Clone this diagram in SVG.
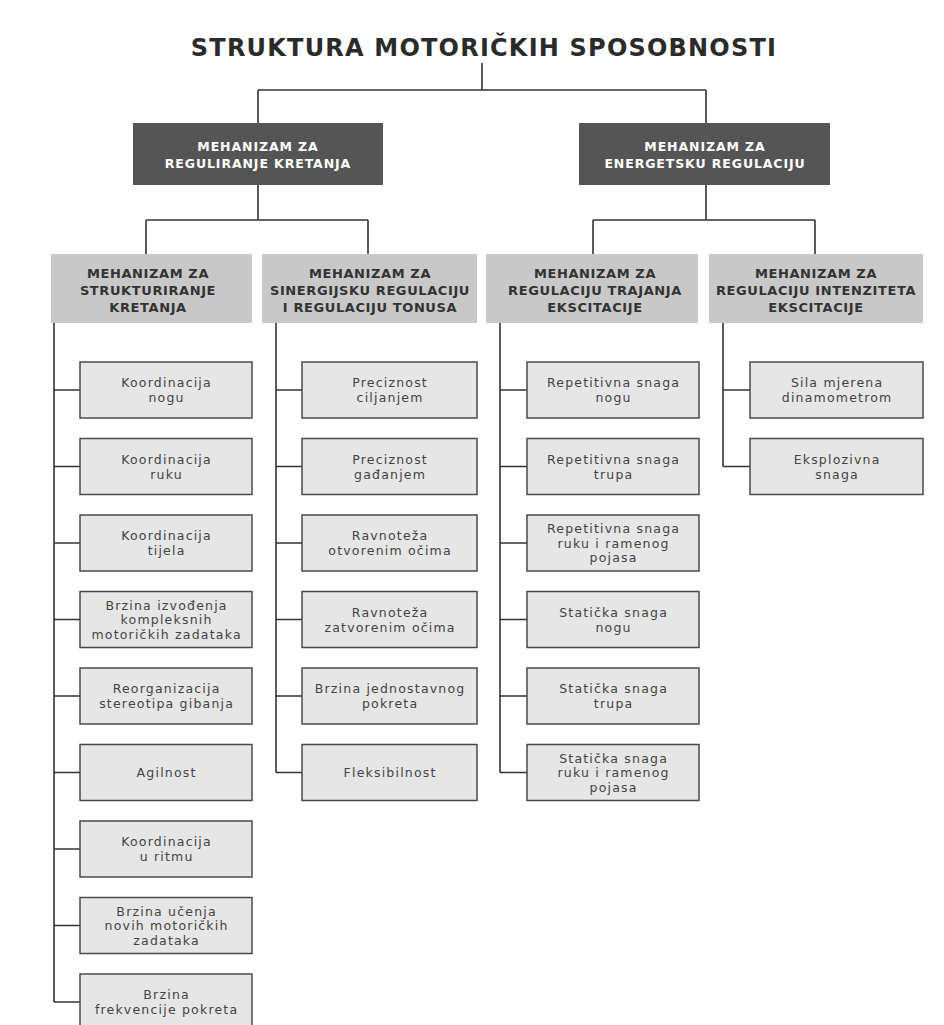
<svg xmlns="http://www.w3.org/2000/svg" width="944" height="1025" viewBox="0 0 944 1025">
<style>
.title{font-family:"DejaVu Sans",sans-serif;font-weight:bold;font-size:24px;letter-spacing:1.2px;fill:#2b2b2b;text-anchor:middle}
.dark rect{fill:#555555}
.dark text{font-family:"DejaVu Sans",sans-serif;font-weight:bold;font-size:12.5px;letter-spacing:0.9px;fill:#ffffff;text-anchor:middle}
.hdr rect{fill:#c8c8c8}
.hdr text{font-family:"DejaVu Sans",sans-serif;font-weight:bold;font-size:13px;letter-spacing:0.6px;fill:#333333;text-anchor:middle}
.leaf rect{fill:#e6e6e6;stroke:#4a4a4a;stroke-width:1.5}
.leaf text{font-family:"DejaVu Sans",sans-serif;font-size:12.5px;letter-spacing:1.2px;fill:#444444;text-anchor:middle}
#connectors path{fill:none;stroke:#333333;stroke-width:1.6}
</style>
<rect width="944" height="1025" fill="#ffffff"/>
<text class="title" x="484" y="56">STRUKTURA MOTORIČKIH SPOSOBNOSTI</text>

<g id="connectors">
<path d="M482 63V90M258 90H706M258 90V123M706 90V123"/>
<path d="M258 185V220M146 220H368M146 220V254M368 220V254"/>
<path d="M706 185V220M593 220H815M593 220V254M815 220V254"/>
<path d="M54 323V1002M54 390H80M54 466.5H80M54 543H80M54 619.5H80M54 696H80M54 772.5H80M54 849H80M54 925.5H80M54 1002H80"/>
<path d="M276 323V772.5M276 390H302M276 466.5H302M276 543H302M276 619.5H302M276 696H302M276 772.5H302"/>
<path d="M500 323V772.5M500 390H527M500 466.5H527M500 543H527M500 619.5H527M500 696H527M500 772.5H527"/>
<path d="M723 323V466.5M723 390H750M723 466.5H750"/>
</g>

<g id="n-reg-kretanja" class="dark"><rect x="133" y="123" width="250" height="62"/><text x="258" y="151">MEHANIZAM ZA</text><text x="258" y="168">REGULIRANJE KRETANJA</text></g>
<g id="n-energetska" class="dark"><rect x="579" y="123" width="251" height="62"/><text x="705" y="151">MEHANIZAM ZA</text><text x="705" y="168">ENERGETSKU REGULACIJU</text></g>

<g id="n-strukt" class="hdr"><rect x="51" y="254" width="201" height="69"/><text x="148" y="278">MEHANIZAM ZA</text><text x="148" y="295">STRUKTURIRANJE</text><text x="148" y="312">KRETANJA</text></g>
<g id="n-sinerg" class="hdr"><rect x="262" y="254" width="215" height="69"/><text x="370" y="278">MEHANIZAM ZA</text><text x="370" y="295">SINERGIJSKU REGULACIJU</text><text x="370" y="312">I REGULACIJU TONUSA</text></g>
<g id="n-trajanje" class="hdr"><rect x="486" y="254" width="212" height="69"/><text x="595" y="278">MEHANIZAM ZA</text><text x="595" y="295">REGULACIJU TRAJANJA</text><text x="595" y="312">EKSCITACIJE</text></g>
<g id="n-intenzitet" class="hdr"><rect x="709" y="254" width="214" height="69"/><text x="816" y="278">MEHANIZAM ZA</text><text x="816" y="295">REGULACIJU INTENZITETA</text><text x="816" y="312">EKSCITACIJE</text></g>

<g id="c1-1" class="leaf"><rect x="80" y="362" width="172" height="56"/><text x="166.6" y="387">Koordinacija</text><text x="166.6" y="402">nogu</text></g>
<g id="c1-2" class="leaf"><rect x="80" y="438.5" width="172" height="56"/><text x="166.6" y="463.5">Koordinacija</text><text x="166.6" y="478.5">ruku</text></g>
<g id="c1-3" class="leaf"><rect x="80" y="515" width="172" height="56"/><text x="166.6" y="540">Koordinacija</text><text x="166.6" y="555">tijela</text></g>
<g id="c1-4" class="leaf"><rect x="80" y="591.5" width="172" height="56"/><text x="166.6" y="609.5">Brzina izvođenja</text><text x="166.6" y="624">kompleksnih</text><text x="166.6" y="638.5">motoričkih zadataka</text></g>
<g id="c1-5" class="leaf"><rect x="80" y="668" width="172" height="56"/><text x="166.6" y="693">Reorganizacija</text><text x="166.6" y="708">stereotipa gibanja</text></g>
<g id="c1-6" class="leaf"><rect x="80" y="744.5" width="172" height="56"/><text x="166.6" y="777">Agilnost</text></g>
<g id="c1-7" class="leaf"><rect x="80" y="821" width="172" height="56"/><text x="166.6" y="846">Koordinacija</text><text x="166.6" y="861">u ritmu</text></g>
<g id="c1-8" class="leaf"><rect x="80" y="897.5" width="172" height="56"/><text x="166.6" y="915.5">Brzina učenja</text><text x="166.6" y="930">novih motoričkih</text><text x="166.6" y="944.5">zadataka</text></g>
<g id="c1-9" class="leaf"><rect x="80" y="974" width="172" height="58"/><text x="166.6" y="999">Brzina</text><text x="166.6" y="1014">frekvencije pokreta</text></g>

<g id="c2-1" class="leaf"><rect x="302" y="362" width="175" height="56"/><text x="390.1" y="387">Preciznost</text><text x="390.1" y="402">ciljanjem</text></g>
<g id="c2-2" class="leaf"><rect x="302" y="438.5" width="175" height="56"/><text x="390.1" y="463.5">Preciznost</text><text x="390.1" y="478.5">gađanjem</text></g>
<g id="c2-3" class="leaf"><rect x="302" y="515" width="175" height="56"/><text x="390.1" y="540">Ravnoteža</text><text x="390.1" y="555">otvorenim očima</text></g>
<g id="c2-4" class="leaf"><rect x="302" y="591.5" width="175" height="56"/><text x="390.1" y="616.5">Ravnoteža</text><text x="390.1" y="631.5">zatvorenim očima</text></g>
<g id="c2-5" class="leaf"><rect x="302" y="668" width="175" height="56"/><text x="390.1" y="693">Brzina jednostavnog</text><text x="390.1" y="708">pokreta</text></g>
<g id="c2-6" class="leaf"><rect x="302" y="744.5" width="175" height="56"/><text x="390.1" y="777">Fleksibilnost</text></g>

<g id="c3-1" class="leaf"><rect x="527" y="362" width="172" height="56"/><text x="613.6" y="387">Repetitivna snaga</text><text x="613.6" y="402">nogu</text></g>
<g id="c3-2" class="leaf"><rect x="527" y="438.5" width="172" height="56"/><text x="613.6" y="463.5">Repetitivna snaga</text><text x="613.6" y="478.5">trupa</text></g>
<g id="c3-3" class="leaf"><rect x="527" y="515" width="172" height="56"/><text x="613.6" y="533">Repetitivna snaga</text><text x="613.6" y="547.5">ruku i ramenog</text><text x="613.6" y="562">pojasa</text></g>
<g id="c3-4" class="leaf"><rect x="527" y="591.5" width="172" height="56"/><text x="613.6" y="616.5">Statička snaga</text><text x="613.6" y="631.5">nogu</text></g>
<g id="c3-5" class="leaf"><rect x="527" y="668" width="172" height="56"/><text x="613.6" y="693">Statička snaga</text><text x="613.6" y="708">trupa</text></g>
<g id="c3-6" class="leaf"><rect x="527" y="744.5" width="172" height="56"/><text x="613.6" y="762.5">Statička snaga</text><text x="613.6" y="777">ruku i ramenog</text><text x="613.6" y="791.5">pojasa</text></g>

<g id="c4-1" class="leaf"><rect x="750" y="362" width="173" height="56"/><text x="837.1" y="387">Sila mjerena</text><text x="837.1" y="402">dinamometrom</text></g>
<g id="c4-2" class="leaf"><rect x="750" y="438.5" width="173" height="56"/><text x="837.1" y="463.5">Eksplozivna</text><text x="837.1" y="478.5">snaga</text></g>
</svg>
